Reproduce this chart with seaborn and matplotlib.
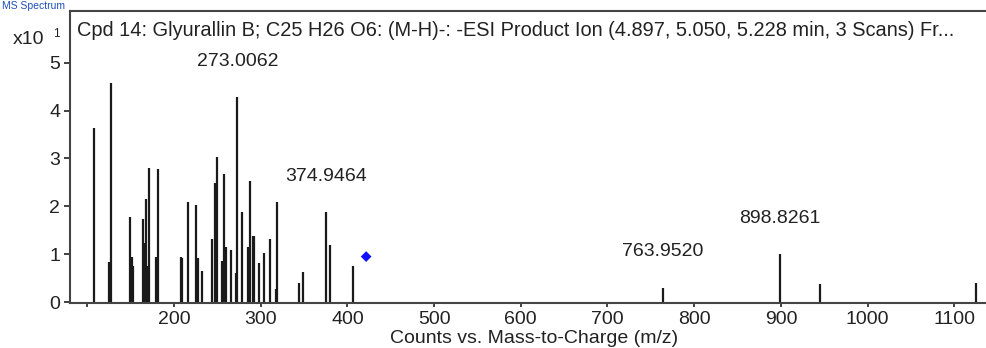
import pandas as pd
import seaborn as sns
import matplotlib.pyplot as plt

# peak list (m/z, counts x10^1)
mz = [108, 125, 127, 149.5, 151, 153, 163.8, 165.3, 167.6, 169.2, 170.7, 178.8, 181.9,
      208.5, 209.3, 216.6, 225.4, 227.4, 232.4, 244.3, 247.4, 249.3, 255.5, 258.2, 260.1,
      265.5, 271.3, 273.0062, 278.2, 285.2, 287.1, 291, 292.5, 298.3, 303.3, 311, 317.6,
      318.7, 343.7, 348.8, 374.9464, 379.5, 406.6, 763.9520, 898.8261, 945.7, 1125.2]
counts = [3.64, 0.84, 4.58, 1.77, 0.94, 0.76, 1.74, 1.24, 2.15, 0.76, 2.80, 0.94, 2.77,
          0.94, 0.92, 2.08, 2.02, 0.92, 0.65, 1.31, 2.48, 3.03, 0.85, 2.67, 1.16,
          1.09, 0.60, 4.28, 1.88, 1.16, 2.53, 1.38, 1.38, 0.81, 1.03, 1.31, 0.27,
          2.08, 0.40, 0.62, 1.88, 1.19, 0.76, 0.29, 1.00, 0.375, 0.40]

# labelled peaks and where their labels sit (counts)
label_mz = [273.0062, 374.9464, 763.9520, 898.8261]
label_y = [5.02, 2.63, 1.06, 1.75]

# precursor marker
precursor_mz = [421.6]
precursor_y = [0.95]

xticks = [100, 200, 300, 400, 500, 600, 700, 800, 900, 1000, 1100]
xticklabels = [''] + [str(t) for t in xticks[1:]]
yticks = [0, 1, 2, 3, 4, 5]

title = ('Cpd 14: Glyurallin B; C25 H26 O6: (M-H)-: -ESI Product Ion '
         '(4.897, 5.050, 5.228 min, 3 Scans) Fr...')

sns.set_style('white')
plt.rcParams['font.family'] = ['Liberation Sans', 'DejaVu Sans']
FS = 14
TXT = '#222222'

peaks = pd.DataFrame({'mz': mz, 'counts': counts})
prec = pd.DataFrame({'mz': precursor_mz, 'counts': precursor_y})

fig = plt.figure(figsize=(9.86, 3.48), dpi=100)
ax = fig.add_axes([70 / 986, 45 / 348, 929 / 986, 292 / 348])

ax.vlines(peaks['mz'], 0, peaks['counts'], color='#1a1a1a', linewidth=1.6)
sns.scatterplot(data=prec, x='mz', y='counts', marker='D', color='#1010ff',
                s=30, edgecolor='none', ax=ax, zorder=5)

for xm, ym in zip(label_mz, label_y):
    ax.text(xm, ym, f'{xm:.4f}', ha='center', va='center', fontsize=FS, color=TXT)

ax.set_xlim(80, 1151.6)
ax.set_ylim(-0.02, 6.08)
ax.set_xticks(xticks)
ax.set_xticklabels(xticklabels)
ax.set_yticks(yticks)
ax.tick_params(axis='both', which='major', labelsize=FS, colors=TXT,
               length=4, width=1.2, direction='out', pad=3)
ax.tick_params(axis='x', bottom=True, length=3)
ax.tick_params(axis='y', left=True)
ax.set_xlabel('')
ax.set_ylabel('')

for side in ['left', 'bottom', 'top']:
    ax.spines[side].set_color('#444444')
    ax.spines[side].set_linewidth(1.5)
ax.spines['right'].set_visible(False)

fig.text(77 / 986, 1 - 36 / 348, title, ha='left', va='baseline', fontsize=14.4, color=TXT)
fig.text(534 / 986, 1 - 343 / 348, 'Counts vs. Mass-to-Charge (m/z)', ha='center',
         va='baseline', fontsize=FS, color=TXT)

fig.text(13 / 986, 1 - 44 / 348, 'x10', ha='left', va='baseline', fontsize=FS, color=TXT)
fig.text(53 / 986, 1 - 37 / 348, '1', ha='left', va='baseline', fontsize=8.5, color=TXT)
fig.text(2 / 986, 1 - 1 / 348, 'MS Spectrum', ha='left', va='top', fontsize=7.5, color='#1f4fbf')

fig.savefig('out.png', dpi=100)
